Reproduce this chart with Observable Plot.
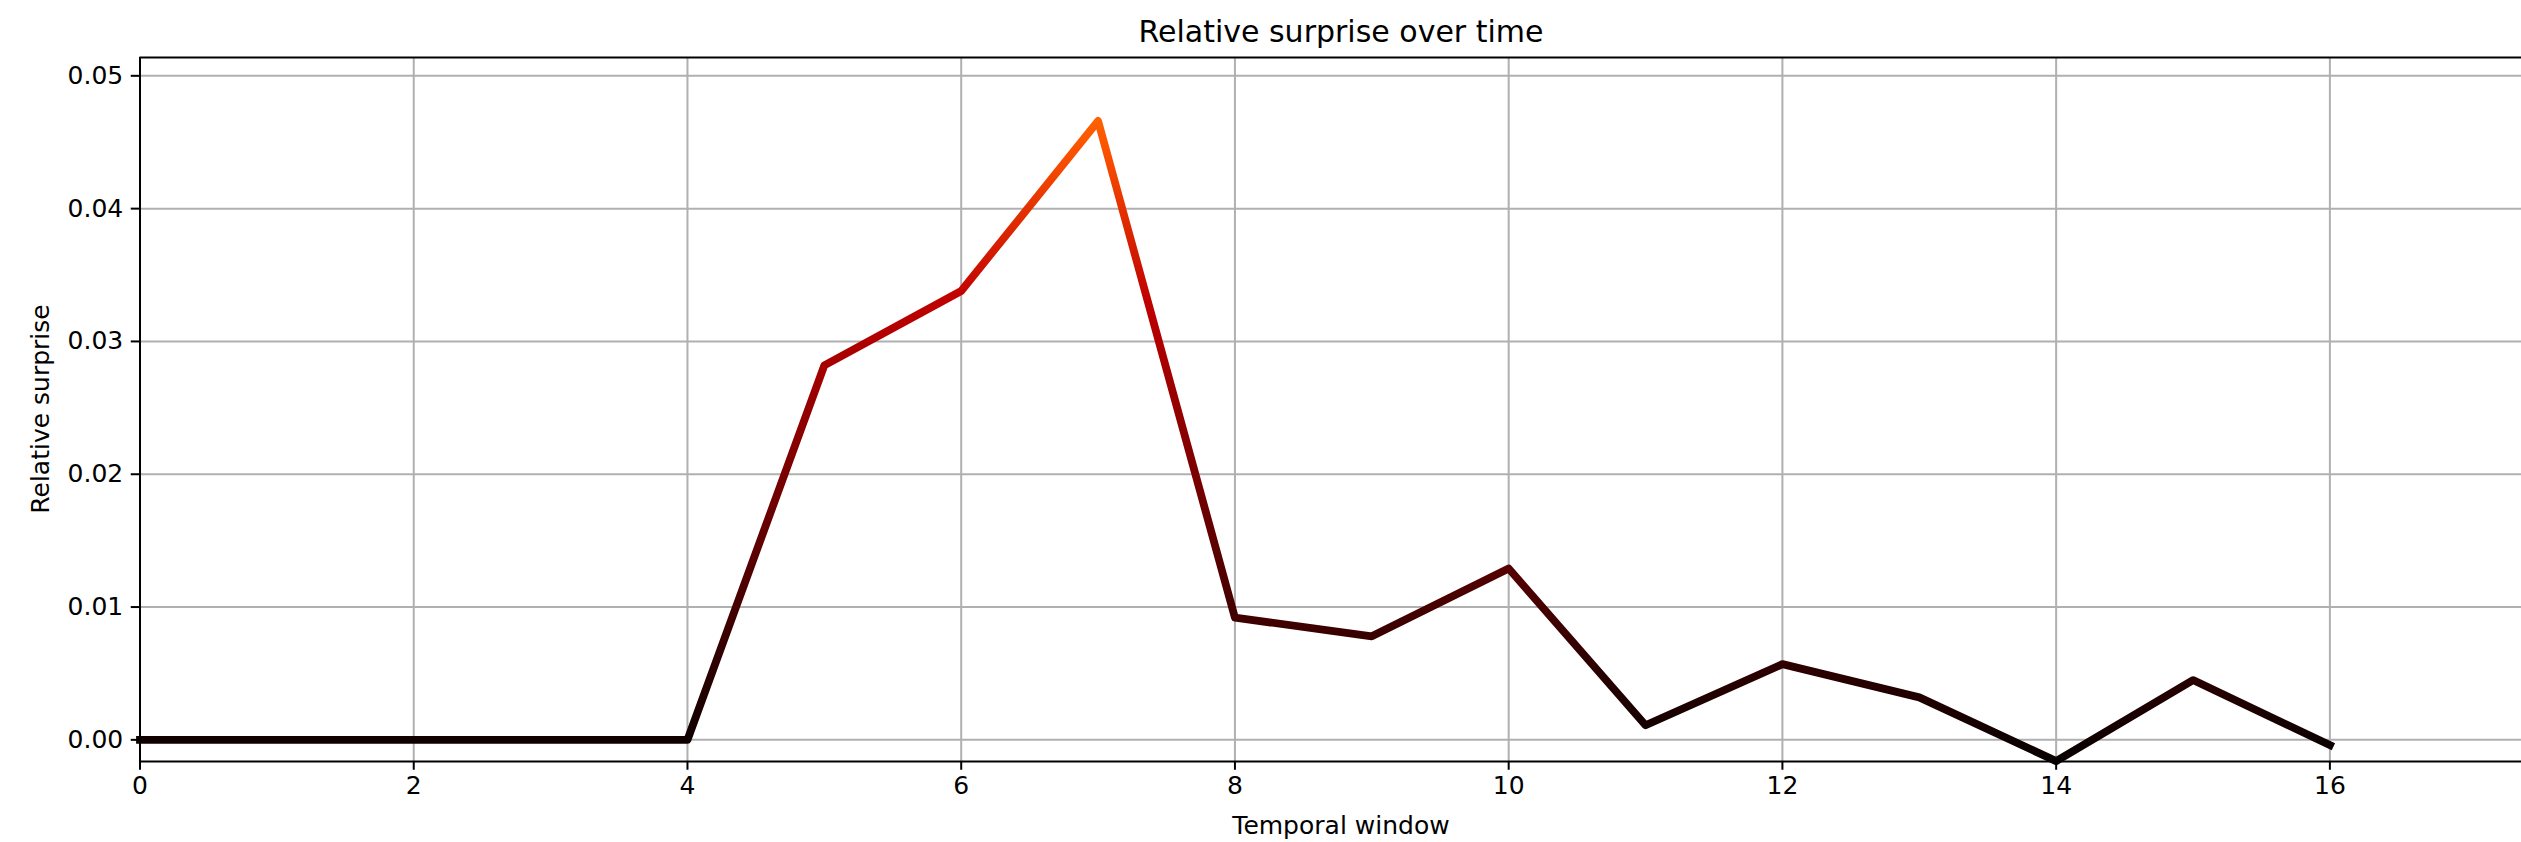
<!DOCTYPE html>
<html>
<head>
<meta charset="utf-8">
<script src="https://cdn.jsdelivr.net/npm/d3@7"></script>
<script src="https://cdn.jsdelivr.net/npm/@observablehq/plot@0.6"></script>
<style>
  html, body { margin: 0; padding: 0; background: #ffffff; }
  #chart svg { display: block; }
</style>
</head>
<body>
<div id="chart"></div>
<script>
// ---- data ----
const windows = [0, 1, 2, 3, 4, 5, 6, 7, 8, 9, 10, 11, 12, 13, 14, 15, 16];
const surprise = [0, 0, 0, 0, 0, 0.0282, 0.0338, 0.0466, 0.0092, 0.0078, 0.0129, 0.0011, 0.0057, 0.0032, -0.0016, 0.0045, -0.0004];
const xTicks = [0, 2, 4, 6, 8, 10, 12, 14, 16];
const yTicks = [0, 0.01, 0.02, 0.03, 0.04, 0.05];
const titleText = "Relative surprise over time";
const xLabelText = "Temporal window";
const yLabelText = "Relative surprise";
// colour normalisation of the heat colormap
const colorMin = -0.003;
const colorMax = 0.069;

const data = windows.map((w, i) => ({ w, s: surprise[i] }));

const W = 2521, H = 842;
const marginLeft = 139.5, marginTop = 57, marginBottom = 81, marginRight = 0;
const xDomain = [0, 17.4];
const yDomain = [-0.00163, 0.05138];
const font = "DejaVu Sans";

const chart = Plot.plot({
  width: W,
  height: H,
  marginLeft, marginTop, marginBottom, marginRight,
  style: { fontFamily: font, fontSize: "25px", background: "#ffffff", color: "#000000" },
  x: { domain: xDomain, label: null },
  y: { domain: yDomain, label: null },
  marks: [
    Plot.gridX(xTicks, { stroke: "#b0b0b0", strokeOpacity: 1, strokeWidth: 2 }),
    Plot.gridY(yTicks, { stroke: "#b0b0b0", strokeOpacity: 1, strokeWidth: 2 }),
    Plot.line(data, {
      x: "w", y: "s",
      stroke: "url(#heatGrad)",
      strokeWidth: 7.8,
      strokeLinecap: "square",
      strokeLinejoin: "round"
    }),
    Plot.ruleX([xDomain[0]], { stroke: "#000", strokeWidth: 2 }),
    Plot.ruleY([yDomain[0], yDomain[1]], { stroke: "#000", strokeWidth: 2 }),
    Plot.axisX({
      ticks: xTicks, tickFormat: d3.format("d"),
      tickSize: 8.75, tickPadding: 6, fontSize: 25,
      strokeWidth: 2, label: null
    }),
    Plot.axisY({
      ticks: yTicks, tickFormat: d3.format(".2f"),
      tickSize: 8.75, tickPadding: 8, fontSize: 25,
      strokeWidth: 2, label: null
    })
  ]
});

document.getElementById("chart").appendChild(chart);

// ---- heat gradient keyed to the y scale ----
const ys = chart.scale("y");
const yPix = v => ys.apply(v);
function gistHeat(t) {
  const r = Math.max(0, Math.min(1, 1.5 * t));
  const g = Math.max(0, Math.min(1, 2 * t - 1));
  const b = Math.max(0, Math.min(1, 4 * t - 3));
  return d3.rgb(r * 255, g * 255, b * 255).formatHex();
}
const svg = d3.select(chart);
const defs = svg.insert("defs", ":first-child");
const grad = defs.append("linearGradient")
  .attr("id", "heatGrad")
  .attr("gradientUnits", "userSpaceOnUse")
  .attr("x1", 0).attr("x2", 0)
  .attr("y1", yPix(colorMin)).attr("y2", yPix(colorMax));
d3.range(0, 1.0001, 0.05).forEach(t => {
  grad.append("stop").attr("offset", t).attr("stop-color", gistHeat(t));
});

// ---- title and axis labels ----
const centerX = 1341;
svg.append("text")
  .attr("x", centerX).attr("y", 42)
  .attr("text-anchor", "middle")
  .attr("font-family", font).attr("font-size", 30).attr("fill", "#000")
  .text(titleText);
svg.append("text")
  .attr("x", centerX).attr("y", 834)
  .attr("text-anchor", "middle")
  .attr("font-family", font).attr("font-size", 25).attr("fill", "#000")
  .text(xLabelText);
const cy = (marginTop + (H - marginBottom)) / 2;
svg.append("text")
  .attr("transform", `translate(49,${cy}) rotate(-90)`)
  .attr("text-anchor", "middle")
  .attr("font-family", font).attr("font-size", 25).attr("fill", "#000")
  .text(yLabelText);
</script>
</body>
</html>
